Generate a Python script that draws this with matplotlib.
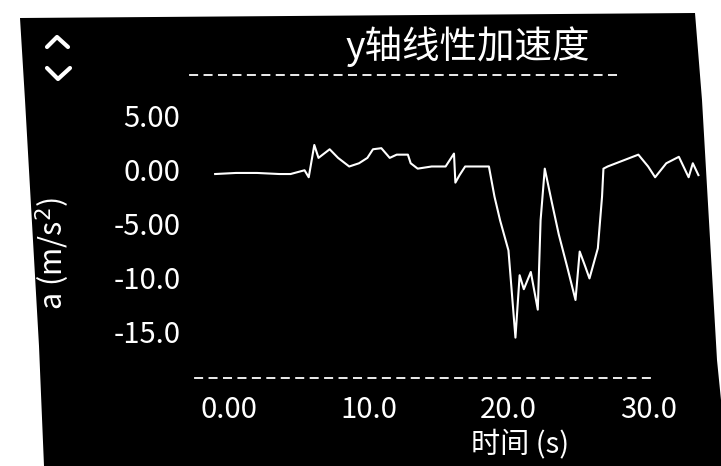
import matplotlib.pyplot as plt
from matplotlib.patches import Polygon
from matplotlib.lines import Line2D

plt.rcParams['font.family'] = ['Noto Sans CJK SC', 'DejaVu Sans']

# y-axis linear acceleration
t = [-1.0, 0.5, 2.0, 3.6, 4.4, 5.4, 5.7, 6.1, 6.4, 7.2, 7.8, 8.6, 9.3, 9.9,
     10.3, 10.9, 11.5, 12.0, 12.8, 13.0, 13.5, 14.5, 15.5, 16.1, 16.2, 16.5,
     16.9, 17.8, 18.6, 19.0, 19.4, 20.0, 20.5, 20.8, 21.1, 21.6, 22.1, 22.3,
     22.6, 23.1, 23.6, 24.2, 24.8, 25.1, 25.5, 25.8, 26.4, 26.7, 26.8, 27.1,
     27.7, 28.3, 29.3, 30.0, 30.5, 31.3, 32.2, 32.9, 33.2, 33.6]
a = [-0.4, -0.3, -0.3, -0.4, -0.4, -0.05, -0.7, 2.3, 1.1, 1.9, 1.1, 0.3, 0.6, 1.1,
     1.9, 2.0, 1.1, 1.4, 1.4, 0.6, 0.1, 0.3, 0.3, 1.5, -1.2, -0.5,
     0.3, 0.3, 0.3, -2.5, -4.7, -7.5, -15.6, -9.8, -11.1, -9.5, -13.0, -4.7,
     0.1, -3.0, -6.0, -9.0, -12.1, -7.6, -9.0, -10.1, -7.3, -2.5, 0.1, 0.3,
     0.6, 0.9, 1.4, 0.3, -0.7, 0.6, 1.2, -0.7, 0.6, -0.5]

yticks = [5, 0, -5, -10, -15]
ytick_labels = ['5.00', '0.00', '-5.00', '-10.0', '-15.0']
xticks = [0, 10, 20, 30]
xtick_labels = ['0.00', '10.0', '20.0', '30.0']

W, H = 721, 466
fig = plt.figure(figsize=(W / 100, H / 100), dpi=100, facecolor='white')

# black phone screen, slightly tilted in the photo
screen = [(20, 18), (695, 13), (702, 100), (717, 360), (721, 400), (721, 466),
          (44, 466), (39, 346), (25, 100)]
fig.patches.append(Polygon([(x / W, 1 - y / H) for x, y in screen], closed=True,
                           transform=fig.transFigure, facecolor='black',
                           edgecolor='none', zorder=-5))

# the up / down chevrons at top left
for pts in ([(47, 47), (57, 37), (68, 47)], [(47, 68), (58, 79), (70, 68)]):
    fig.lines.append(Line2D([p[0] / W for p in pts], [1 - p[1] / H for p in pts],
                            transform=fig.transFigure, color='white', lw=3,
                            solid_capstyle='round', zorder=-4))

ax = fig.add_axes([190 / W, 1 - 378 / H, 514 / W, 303 / H])
ax.set_facecolor('none')
ax.plot(t, a, color='white', lw=1.5)

ax.set_xlim(-2.8, 34.0)
ax.set_ylim(-19.35, 8.8)
ax.set_yticks(yticks, ytick_labels)
ax.set_xticks(xticks, xtick_labels)
ax.tick_params(length=0, colors='white', labelsize=21)
ax.tick_params(axis='y', pad=7)
ax.tick_params(axis='x', pad=12)

for side in ['left', 'right']:
    ax.spines[side].set_visible(False)
for side in ['top', 'bottom']:
    ax.spines[side].set_color('white')
    ax.spines[side].set_linewidth(1.3)
    ax.spines[side].set_linestyle((0, (4, 4)))
ax.spines['top'].set_bounds(-2.8, 28.2)
ax.spines['bottom'].set_bounds(-2.45, 30.5)

ax.set_title('y轴线性加速度', color='white', fontsize=27, x=0.541, y=1.03)
ax.set_ylabel('a (m/s$^2$)', color='white', fontsize=22)
ax.yaxis.set_label_coords(-0.23, 0.41)
ax.set_xlabel('时间 (s)', color='white', fontsize=21)
ax.xaxis.set_label_coords(0.642, -0.17)

fig.savefig('out.png', dpi=100, facecolor='white')
